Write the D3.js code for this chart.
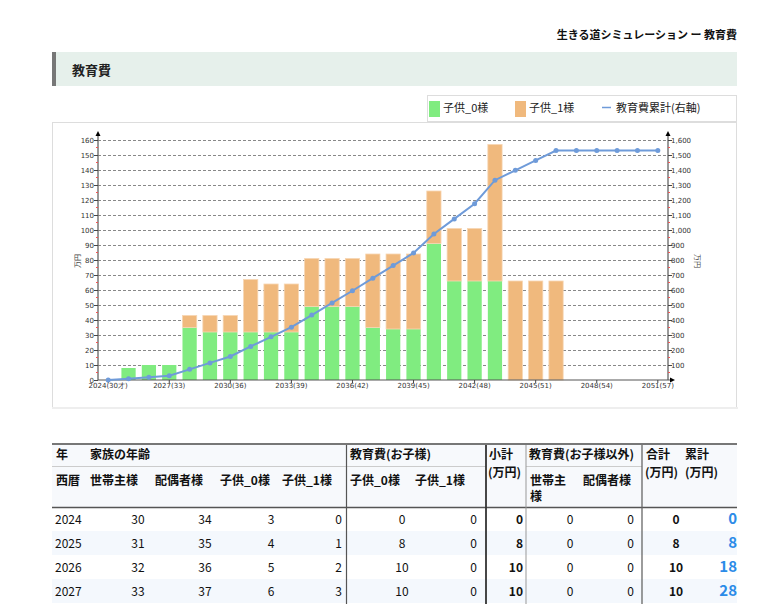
<!DOCTYPE html>
<html>
<head>
<meta charset="utf-8">
<script src="https://cdn.jsdelivr.net/npm/d3@7"></script>
<style>
  body { margin: 0; background: #fff; }
  text { font-family: "Noto Sans CJK JP", sans-serif; }
  .tick-label { font-family: "DejaVu Sans", sans-serif; font-size: 7px; fill: #333; }
</style>
</head>
<body>
<div id="chart"></div>
<script>
// Data
const years = [2024, 2025, 2026, 2027, 2028, 2029, 2030, 2031, 2032, 2033, 2034, 2035, 2036, 2037,
  2038, 2039, 2040, 2041, 2042, 2043, 2044, 2045, 2046, 2047, 2048, 2049, 2050, 2051];
const headAges = [30, 31, 32, 33, 34, 35, 36, 37, 38, 39, 40, 41, 42, 43,
  44, 45, 46, 47, 48, 49, 50, 51, 52, 53, 54, 55, 56, 57];
const child0Cost = [0, 8, 10, 10, 35, 32, 32, 32, 32, 32, 49, 49, 49, 35,
  34, 34, 91, 66, 66, 66, 0, 0, 0, 0, 0, 0, 0, 0];
const child1Cost = [0, 0, 0, 0, 8, 11, 11, 35, 32, 32, 32, 32, 32, 49,
  50, 50, 35, 35, 35, 91, 66, 66, 66, 0, 0, 0, 0, 0];
const cumulative = [0, 8, 18, 28, 71, 114, 157, 224, 288, 352, 433, 514, 595, 679,
  763, 847, 973, 1074, 1175, 1332, 1398, 1464, 1530, 1530, 1530, 1530, 1530, 1530];
const tickYears = [2024, 2027, 2030, 2033, 2036, 2039, 2042, 2045, 2048, 2051];
const leftTicks = [0, 10, 20, 30, 40, 50, 60, 70, 80, 90, 100, 110, 120, 130, 140, 150, 160];
const rightTicks = [100, 200, 300, 400, 500, 600, 700, 800, 900, 1000, 1100, 1200, 1300, 1400, 1500, 1600];

// table rows: 西暦, 世帯主様, 配偶者様, 子供_0様, 子供_1様, 教育費0, 教育費1, 小計, 世帯主, 配偶者, 合計, 累計
const tableRows = [
  [2024, 30, 34, 3, 0, 0, 0, 0, 0, 0, 0, 0],
  [2025, 31, 35, 4, 1, 8, 0, 8, 0, 0, 8, 8],
  [2026, 32, 36, 5, 2, 10, 0, 10, 0, 0, 10, 18],
  [2027, 33, 37, 6, 3, 10, 0, 10, 0, 0, 10, 28]
];

const W = 764, H = 604;
const GREEN = '#80ec80', ORANGE = '#f0b97d', BLUE = '#6f9bd9';
const PLOT = { left: 98, right: 668, top: 140, bottom: 380 };

const svg = d3.select('#chart').append('svg')
  .attr('width', W).attr('height', H);

// page title
svg.append('text')
  .attr('x', 737).attr('y', 39)
  .attr('text-anchor', 'end')
  .attr('font-size', 11).attr('font-weight', 'bold').attr('fill', '#111')
  .text('生きる道シミュレーション ー 教育費');

// section header
svg.append('rect').attr('x', 52).attr('y', 52).attr('width', 685).attr('height', 34).attr('fill', '#e6f0eb');
svg.append('rect').attr('x', 52).attr('y', 52).attr('width', 4).attr('height', 34).attr('fill', '#777');
svg.append('text')
  .attr('x', 72).attr('y', 75)
  .attr('font-size', 13).attr('font-weight', 'bold').attr('fill', '#222')
  .text('教育費');

// legend box
const legend = svg.append('g');
legend.append('rect').attr('x', 427.5).attr('y', 95.5).attr('width', 309).attr('height', 26)
  .attr('fill', '#fff').attr('stroke', '#ddd');
legend.append('rect').attr('x', 429).attr('y', 101).attr('width', 11).attr('height', 16).attr('fill', GREEN);
legend.append('text').attr('x', 443).attr('y', 112).attr('font-size', 11).attr('fill', '#222').text('子供_0様');
legend.append('rect').attr('x', 515).attr('y', 101).attr('width', 11).attr('height', 16).attr('fill', ORANGE);
legend.append('text').attr('x', 529).attr('y', 112).attr('font-size', 11).attr('fill', '#222').text('子供_1様');
legend.append('line').attr('x1', 602).attr('x2', 611).attr('y1', 107.5).attr('y2', 107.5)
  .attr('stroke', BLUE).attr('stroke-width', 1.5);
legend.append('text').attr('x', 616).attr('y', 112).attr('font-size', 11).attr('fill', '#222').text('教育費累計(右軸)');

// chart frame
svg.append('rect').attr('x', 52.5).attr('y', 122.5).attr('width', 684).attr('height', 285)
  .attr('fill', '#fff').attr('stroke', '#ddd');
svg.append('rect').attr('x', 52).attr('y', 407).attr('width', 686).attr('height', 2).attr('fill', '#eee');

// scales
const x = d3.scaleBand()
  .domain(years)
  .range([PLOT.left, PLOT.right])
  .paddingInner(0.3)
  .paddingOuter(0.15);
const y = d3.scaleLinear().domain([0, 160]).range([PLOT.bottom, PLOT.top]);
const yR = d3.scaleLinear().domain([0, 1600]).range([PLOT.bottom, PLOT.top]);
const cx = d => x(d) + x.bandwidth() / 2;

// grid
svg.append('g').selectAll('line')
  .data(leftTicks.filter(d => d > 0))
  .join('line')
  .attr('x1', PLOT.left).attr('x2', PLOT.right)
  .attr('y1', d => Math.round(y(d)) + 0.5).attr('y2', d => Math.round(y(d)) + 0.5)
  .attr('stroke', '#888').attr('stroke-dasharray', '3,2');

// bars
const bars = svg.append('g');
bars.selectAll('.b0')
  .data(years)
  .join('rect')
  .attr('class', 'b0')
  .attr('x', d => x(d))
  .attr('width', x.bandwidth())
  .attr('y', (d, i) => y(child0Cost[i]))
  .attr('height', (d, i) => y(0) - y(child0Cost[i]))
  .attr('fill', GREEN);
bars.selectAll('.b1')
  .data(years)
  .join('rect')
  .attr('class', 'b1')
  .attr('x', d => x(d))
  .attr('width', x.bandwidth())
  .attr('y', (d, i) => y(child0Cost[i] + child1Cost[i]))
  .attr('height', (d, i) => y(child0Cost[i]) - y(child0Cost[i] + child1Cost[i]))
  .attr('fill', ORANGE)
  .attr('stroke', '#f7d6b3').attr('stroke-width', (d, i) => child1Cost[i] > 0 ? 0.8 : 0);

// axes
const axisG = svg.append('g');
// left axis
axisG.append('line').attr('x1', PLOT.left).attr('x2', PLOT.left).attr('y1', PLOT.bottom).attr('y2', 134)
  .attr('stroke', '#777').attr('stroke-width', 1.5);
axisG.append('path').attr('d', `M${PLOT.left - 2.5},136 L${PLOT.left},131 L${PLOT.left + 2.5},136 Z`).attr('fill', '#000');
// right axis
axisG.append('line').attr('x1', PLOT.right).attr('x2', PLOT.right).attr('y1', PLOT.bottom).attr('y2', 134)
  .attr('stroke', '#777').attr('stroke-width', 1.5);
axisG.append('path').attr('d', `M${PLOT.right - 2.5},136 L${PLOT.right},131 L${PLOT.right + 2.5},136 Z`).attr('fill', '#000');
// bottom axis
axisG.append('line').attr('x1', PLOT.left).attr('x2', PLOT.right + 4).attr('y1', PLOT.bottom).attr('y2', PLOT.bottom)
  .attr('stroke', '#555').attr('stroke-width', 1);
axisG.append('path').attr('d', `M${PLOT.right + 2},${PLOT.bottom - 2.5} L${PLOT.right + 7},${PLOT.bottom} L${PLOT.right + 2},${PLOT.bottom + 2.5} Z`).attr('fill', '#000');

// red minor ticks
const minor = d3.range(5, 160, 10);
axisG.selectAll('.ml').data(minor).join('line')
  .attr('x1', PLOT.left - 2).attr('x2', PLOT.left)
  .attr('y1', d => y(d)).attr('y2', d => y(d))
  .attr('stroke', '#e55').attr('stroke-width', 1);
axisG.selectAll('.mr').data(minor).join('line')
  .attr('x1', PLOT.right).attr('x2', PLOT.right + 2)
  .attr('y1', d => y(d)).attr('y2', d => y(d))
  .attr('stroke', '#e55').attr('stroke-width', 1);

// left ticks + labels
axisG.selectAll('.lt').data(leftTicks).join('line')
  .attr('x1', PLOT.left - 4).attr('x2', PLOT.left)
  .attr('y1', d => Math.round(y(d)) + 0.5).attr('y2', d => Math.round(y(d)) + 0.5)
  .attr('stroke', '#444');
axisG.selectAll('.ltl').data(leftTicks).join('text')
  .attr('class', 'tick-label')
  .attr('x', PLOT.left - 4).attr('y', d => y(d) + 2.5)
  .attr('text-anchor', 'end')
  .text(d => d);

// right ticks + labels
axisG.selectAll('.rt').data(rightTicks).join('line')
  .attr('x1', PLOT.right).attr('x2', PLOT.right + 4)
  .attr('y1', d => Math.round(yR(d)) + 0.5).attr('y2', d => Math.round(yR(d)) + 0.5)
  .attr('stroke', '#444');
axisG.selectAll('.rtl').data(rightTicks).join('text')
  .attr('class', 'tick-label')
  .attr('x', PLOT.right + 3).attr('y', d => yR(d) + 2.5)
  .text(d => d3.format(',')(d));

// bottom ticks + labels
axisG.selectAll('.xt').data(tickYears).join('line')
  .attr('x1', d => cx(d)).attr('x2', d => cx(d))
  .attr('y1', PLOT.bottom).attr('y2', PLOT.bottom + 3)
  .attr('stroke', '#444');
axisG.selectAll('.xtl').data(tickYears).join('text')
  .attr('class', 'tick-label')
  .attr('x', d => cx(d)).attr('y', PLOT.bottom + 8)
  .attr('text-anchor', 'middle')
  .text((d, i) => {
    const age = headAges[years.indexOf(d)];
    return i === 0 ? `${d}(${age}才)` : `${d}(${age})`;
  });

// axis titles
svg.append('text')
  .attr('transform', 'translate(80,261) rotate(-90)')
  .attr('text-anchor', 'middle').attr('font-size', 7).attr('fill', '#444')
  .text('万円');
svg.append('text')
  .attr('transform', 'translate(695,261) rotate(90)')
  .attr('text-anchor', 'middle').attr('font-size', 7).attr('fill', '#444')
  .text('万円');

// cumulative line
const line = d3.line()
  .x((d, i) => cx(years[i]))
  .y(d => yR(d));
svg.append('path')
  .datum(cumulative)
  .attr('d', line)
  .attr('fill', 'none')
  .attr('stroke', BLUE)
  .attr('stroke-width', 2);
svg.append('g').selectAll('circle')
  .data(cumulative)
  .join('circle')
  .attr('cx', (d, i) => cx(years[i]))
  .attr('cy', d => yR(d))
  .attr('r', 2.5)
  .attr('fill', BLUE);

// ---- table ----
const table = svg.append('g');
table.append('rect').attr('x', 52).attr('y', 444).attr('width', 685).attr('height', 63).attr('fill', '#f7f9fc');
table.selectAll('.rowbg').data(tableRows).join('rect')
  .attr('x', 52).attr('width', 685)
  .attr('y', (d, i) => 507 + i * 24).attr('height', 24)
  .attr('fill', (d, i) => i % 2 ? '#f4f8fd' : '#fff');

table.append('line').attr('x1', 52).attr('x2', 737).attr('y1', 444).attr('y2', 444)
  .attr('stroke', '#777').attr('stroke-width', 2);
table.append('line').attr('x1', 52).attr('x2', 737).attr('y1', 507.5).attr('y2', 507.5)
  .attr('stroke', '#555').attr('stroke-width', 1.5);
[[52, 346], [346, 486], [526, 642]].forEach(s => {
  table.append('line').attr('x1', s[0]).attr('x2', s[1]).attr('y1', 466.5).attr('y2', 466.5)
    .attr('stroke', '#ccc');
});
const vlines = [
  { x: 346.5, c: '#555', w: 1.2 },
  { x: 486, c: '#333', w: 1.8 },
  { x: 526, c: '#999', w: 1 },
  { x: 642, c: '#666', w: 1.3 }
];
table.selectAll('.vl').data(vlines).join('line')
  .attr('x1', d => d.x).attr('x2', d => d.x)
  .attr('y1', 445).attr('y2', 604)
  .attr('stroke', d => d.c).attr('stroke-width', d => d.w);

const headers = [
  ['年', 56, 459], ['家族の年齢', 90, 459], ['教育費(お子様)', 350, 459], ['小計', 489, 459],
  ['教育費(お子様以外)', 529, 459], ['合計', 646, 459], ['累計', 685, 459],
  ['西暦', 56, 485], ['世帯主様', 90, 485], ['配偶者様', 155, 485], ['子供_0様', 220, 485],
  ['子供_1様', 282, 485], ['子供_0様', 350, 485], ['子供_1様', 415, 485], ['(万円)', 488, 477],
  ['世帯主', 530, 485], ['様', 530, 501], ['配偶者様', 583, 485], ['(万円)', 645, 477], ['(万円)', 685, 477]
];
table.selectAll('.hd').data(headers).join('text')
  .attr('x', d => d[1]).attr('y', d => d[2])
  .attr('font-size', 12).attr('font-weight', 'bold').attr('fill', '#111')
  .text(d => d[0]);

// column placement for body cells
const cols = [
  { x: 55, a: 'start' }, { x: 138, a: 'middle' }, { x: 205, a: 'middle' }, { x: 271, a: 'middle' },
  { x: 342, a: 'end' }, { x: 402, a: 'middle' }, { x: 477, a: 'end' }, { x: 523, a: 'end', b: true },
  { x: 570, a: 'middle' }, { x: 634, a: 'end' }, { x: 676, a: 'middle', b: true },
  { x: 737, a: 'end', b: true, blue: true }
];
tableRows.forEach((row, ri) => {
  table.selectAll(`.c${ri}`).data(row).join('text')
    .attr('x', (d, ci) => cols[ci].x)
    .attr('y', 524 + ri * 24)
    .attr('text-anchor', (d, ci) => cols[ci].a)
    .attr('font-size', (d, ci) => cols[ci].blue ? 15 : 12)
    .attr('font-weight', (d, ci) => cols[ci].b ? 'bold' : 'normal')
    .attr('fill', (d, ci) => cols[ci].blue ? '#2b8be8' : '#111')
    .text(d => d);
});
</script>
</body>
</html>
